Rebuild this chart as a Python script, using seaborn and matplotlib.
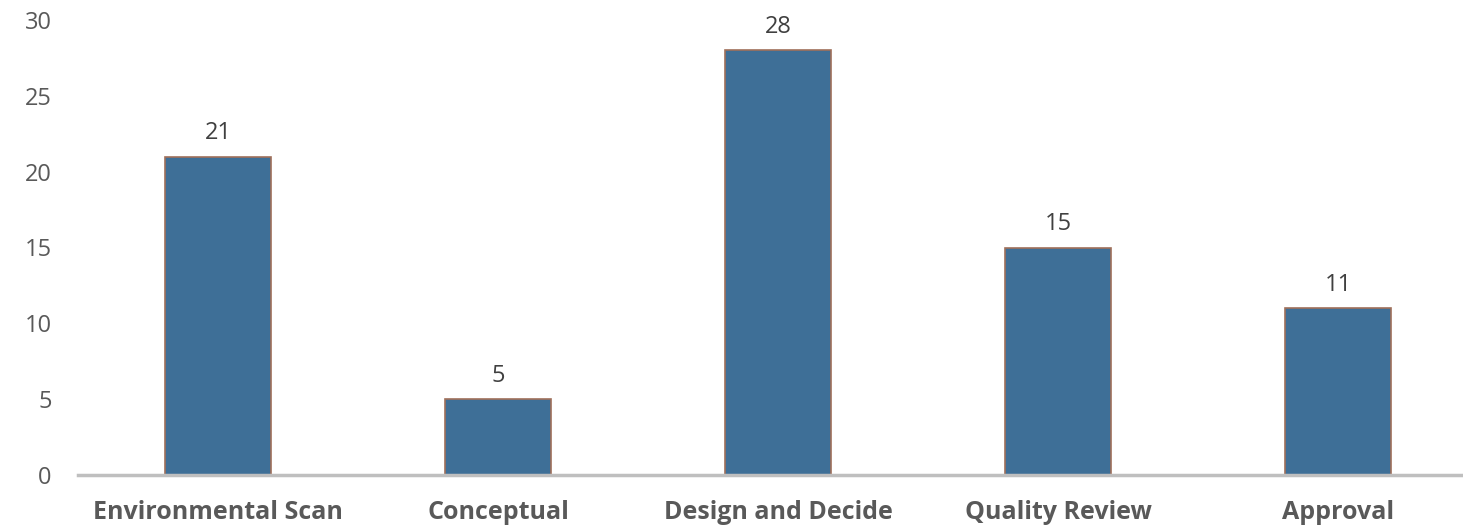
import matplotlib
matplotlib.use("Agg")
import matplotlib.pyplot as plt
import seaborn as sns
import pandas as pd

stages = ["Environmental Scan", "Conceptual", "Design and Decide", "Quality Review", "Approval"]
counts = [21, 5, 28, 15, 11]

df = pd.DataFrame({"Stage": stages, "Count": counts})

sns.set_style("white")
plt.rcParams["font.family"] = ["Open Sans", "DejaVu Sans"]

fig = plt.figure(figsize=(14.63, 5.3), dpi=100)
ax = fig.add_axes([78 / 1463, 55 / 530, 1400 / 1463, 455 / 530])

sns.barplot(data=df, x="Stage", y="Count", color="#3E6F97", width=0.38,
            edgecolor="#A0705A", linewidth=1.2, ax=ax, saturation=1)

ax.set_xlim(-0.5, 4.5)
ax.set_ylim(0, 30)
ax.set_yticks(range(0, 31, 5))
ax.set_xlabel("")
ax.set_ylabel("")

for side in ["top", "right", "left"]:
    ax.spines[side].set_visible(False)
ax.spines["bottom"].set_color("#BFBFBF")
ax.spines["bottom"].set_linewidth(2.5)

ax.tick_params(axis="y", length=0, pad=19, labelsize=17, labelcolor="#595959")
ax.tick_params(axis="x", length=0, pad=18, labelsize=18, labelcolor="#595959")
for lbl in ax.get_xticklabels():
    lbl.set_fontweight("bold")

for i, v in enumerate(counts):
    ax.text(i, v + 0.75, str(v), ha="center", va="bottom", fontsize=17, color="#404040")

fig.savefig("out.png", dpi=100)
